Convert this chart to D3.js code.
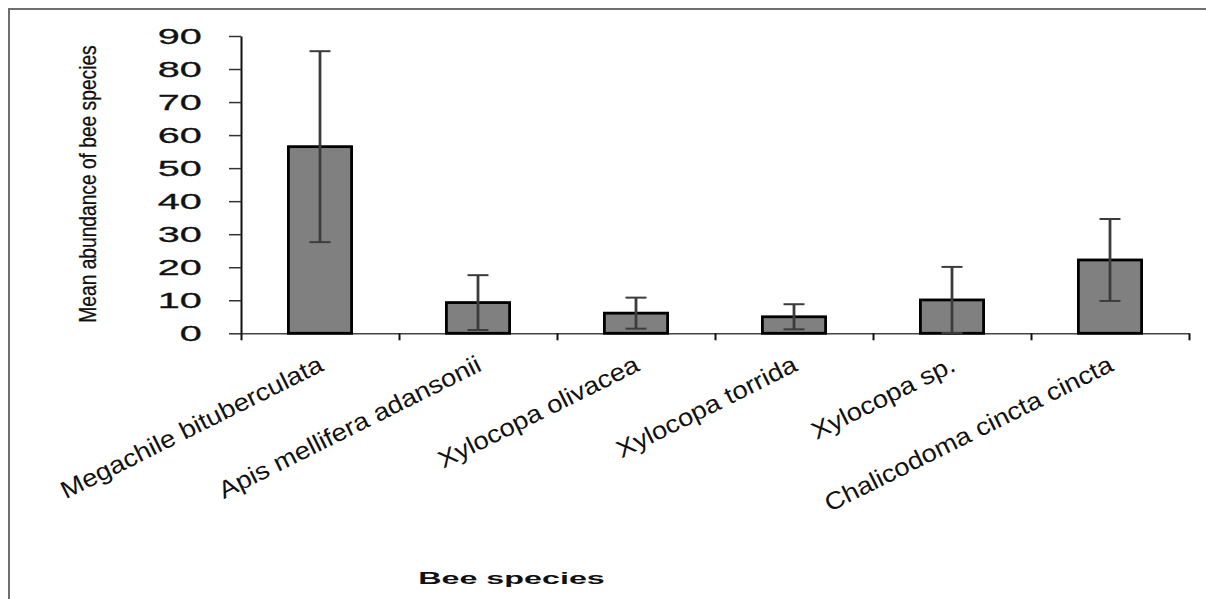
<!DOCTYPE html>
<html>
<head>
<meta charset="utf-8">
<script src="https://cdn.jsdelivr.net/npm/d3@7"></script>
<style>
    body { margin: 0; background: #fff; }
    text { font-family: 'Liberation Sans', Arial, sans-serif; fill: #111; }
</style>
</head>
<body>
<div id="chart"></div>
<script>
const categories = [
    'Megachile bituberculata',
    'Apis mellifera adansonii',
    'Xylocopa olivacea',
    'Xylocopa torrida',
    'Xylocopa sp.',
    'Chalicodoma cincta cincta'
];
const means = [56.5, 9.3, 6.1, 5.0, 10.1, 22.2];
const errors = [28.9, 8.3, 4.7, 3.8, 10.0, 12.4];
const yTicks = [0, 10, 20, 30, 40, 50, 60, 70, 80, 90];
const yTitle = 'Mean abundance of bee species';
const xTitle = 'Bee species';

const width = 1206;
const height = 599;

const svg = d3.select('#chart')
    .append('svg')
    .attr('width', width)
    .attr('height', height);

svg.append('rect')
    .attr('width', width)
    .attr('height', height)
    .attr('fill', '#fff');

// outer frame (only left and top visible)
svg.append('path')
    .attr('d', `M9,${height}V9H${width}`)
    .attr('fill', 'none')
    .attr('stroke', '#6e6e6e')
    .attr('stroke-width', 2);

const x = d3.scaleBand()
    .domain(categories)
    .range([241, 1189])
    .paddingInner(0.6)
    .paddingOuter(0.3);

const y = d3.scaleLinear()
    .domain([0, 90])
    .range([333.3, 36]);

// y axis
const stretch = 1.8;
const yAxis = d3.axisLeft(y)
    .tickValues(yTicks)
    .tickSize(12)
    .tickSizeOuter(0);

const gy = svg.append('g')
    .attr('transform', 'translate(241,0)')
    .call(yAxis)
    .attr('font-family', null)
    .attr('font-size', null);

gy.select('.domain').attr('stroke', '#111').attr('stroke-width', 2);
gy.selectAll('.tick line').attr('stroke', '#333').attr('stroke-width', 1.5);
gy.selectAll('.tick text')
    .attr('x', -39.3 / stretch)
    .attr('transform', `scale(${stretch},1)`)
    .attr('font-size', 22)
    .attr('stroke', '#111')
    .attr('stroke-width', 0.3);

// x axis: ticks on the category boundaries
const xb = d3.scaleLinear()
    .domain([0, categories.length])
    .range(x.range());

const xAxis = d3.axisBottom(xb)
    .ticks(categories.length)
    .tickSize(7)
    .tickSizeOuter(0)
    .tickFormat('');

const gx = svg.append('g')
    .attr('transform', `translate(0,${y(0)})`)
    .call(xAxis);

gx.select('.domain').attr('stroke', '#444').attr('stroke-width', 1.5);
gx.selectAll('.tick line').attr('stroke', '#111').attr('stroke-width', 2);

// bars
svg.selectAll('.bar')
    .data(categories)
    .enter()
    .append('rect')
    .attr('class', 'bar')
    .attr('x', d => x(d))
    .attr('width', x.bandwidth())
    .attr('y', (d, i) => y(means[i]))
    .attr('height', (d, i) => y(0) - y(means[i]))
    .attr('fill', '#808080')
    .attr('stroke', '#000')
    .attr('stroke-width', 2.8);

// error bars
const errGroup = svg.append('g').attr('stroke', '#3c3c3c');
categories.forEach((c, i) => {
    const cx = x(c) + x.bandwidth() / 2;
    const top = y(means[i] + errors[i]);
    const bottom = y(means[i] - errors[i]);
    errGroup.append('line')
        .attr('x1', cx).attr('x2', cx)
        .attr('y1', top).attr('y2', bottom)
        .attr('stroke-width', 2.8);
    [top, bottom].forEach(py => {
        errGroup.append('line')
            .attr('x1', cx - 10.5).attr('x2', cx + 10.5)
            .attr('y1', py).attr('y2', py)
            .attr('stroke-width', 2);
    });
});

// category labels
svg.selectAll('.cat')
    .data(categories)
    .enter()
    .append('text')
    .attr('class', 'cat')
    .attr('text-anchor', 'end')
    .attr('font-size', 24.5)
    .attr('transform', d => `translate(${x(d) + x.bandwidth() / 2 + 5},370) rotate(-26.5) scale(1.12,1)`)
    .text(d => d);

// axis titles
svg.append('text')
    .attr('text-anchor', 'middle')
    .attr('font-size', 24)
    .attr('stroke', '#111')
    .attr('stroke-width', 0.3)
    .attr('transform', 'translate(96,184) rotate(-90) scale(0.8,1)')
    .text(yTitle);

svg.append('text')
    .attr('text-anchor', 'middle')
    .attr('font-size', 17)
    .attr('font-weight', 'bold')
    .attr('transform', 'translate(511.5,584) scale(1.9,1)')
    .text(xTitle);
</script>
</body>
</html>
